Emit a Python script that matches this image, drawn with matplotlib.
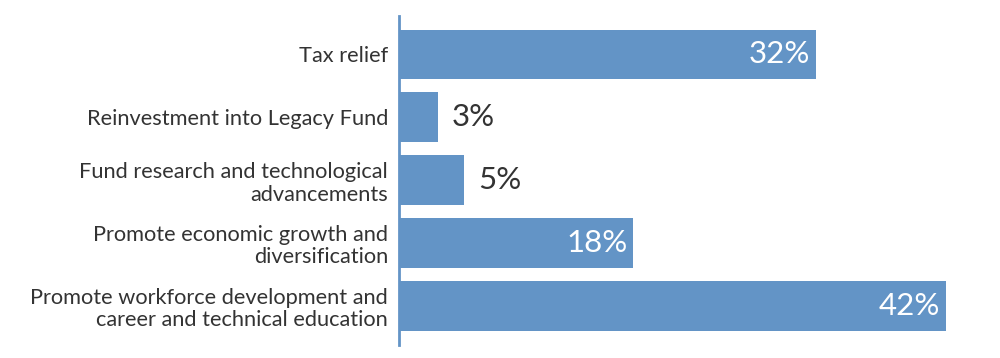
import matplotlib
matplotlib.use('Agg')
import matplotlib.pyplot as plt

# Datos del gráfico
categories = [
    'Tax relief',
    'Reinvestment into Legacy Fund',
    'Fund research and technological\nadvancements',
    'Promote economic growth and\ndiversification',
    'Promote workforce development and\ncareer and technical education',
]
values = [32, 3, 5, 18, 42]
value_labels = ['32%', '3%', '5%', '18%', '42%']

bar_color = '#6394c6'
text_color = '#333333'

plt.rcParams['font.family'] = ['Lato', 'DejaVu Sans']

fig = plt.figure(figsize=(10, 3.58), dpi=100)
ax = fig.add_axes([0.399, 0.0363, 0.586, 0.9190])

pos = list(range(len(categories)))
ax.barh(pos, values, height=0.79, color=bar_color)

ax.set_xlim(0, 45)
ax.set_ylim(4.62, -0.61)

ax.set_yticks(pos)
ax.set_yticklabels(categories, fontsize=15.7, color=text_color, ha='right',
                   multialignment='right', linespacing=1.15)
ax.tick_params(axis='y', length=0, pad=8)
ax.set_xticks([])

for s in ['top', 'right', 'bottom']:
    ax.spines[s].set_visible(False)
ax.spines['left'].set_color(bar_color)
ax.spines['left'].set_linewidth(2)

# Etiquetas de valores
for p, v, lab in zip(pos, values, value_labels):
    if v > 10:
        ax.annotate(lab, (v, p), xytext=(-4, 0), textcoords='offset points',
                    ha='right', va='center', color='white', fontsize=22.5)
    else:
        ax.annotate(lab, (v, p), xytext=(10, 0), textcoords='offset points',
                    ha='left', va='center', color=text_color, fontsize=22.5)

fig.savefig('out.png', dpi=100)
